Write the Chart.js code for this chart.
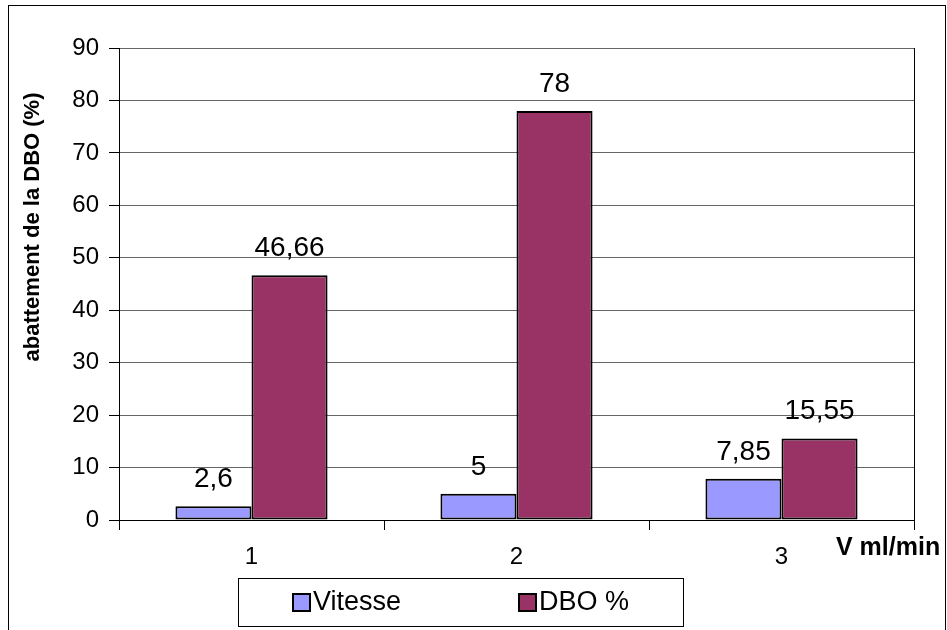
<!DOCTYPE html>
<html>
<head>
<meta charset="utf-8">
<script src="https://cdn.jsdelivr.net/npm/chart.js@4/dist/chart.umd.min.js"></script>
<style>
  html, body { margin: 0; padding: 0; background: #fff; }
  #wrap { width: 947px; height: 630px; position: relative; }
</style>
</head>
<body>
<div id="wrap"><canvas id="chart"></canvas></div>
<script>
// chart data
const categories = ['1', '2', '3'];
const vitesseValues = [2.6, 5, 7.85];
const dboValues = [46.66, 78, 15.55];
const seriesLabels = ['Vitesse', 'DBO %'];
const yMin = 0, yMax = 90, yStep = 10;
const yTitle = 'abattement de la DBO (%)';
const xTitle = 'V ml/min';

const FONT = "Arial, 'Liberation Sans', sans-serif";

// format numbers the french way (comma decimal)
function frNum(v) {
    return String(v).replace('.', ',');
}

// value labels above each bar
const valueLabels = {
    id: 'valueLabels',
    afterDatasetsDraw(chart) {
        const ctx = chart.ctx;
        ctx.save();
        ctx.font = '28px ' + FONT;
        ctx.fillStyle = '#000';
        ctx.textAlign = 'center';
        ctx.textBaseline = 'alphabetic';
        chart.data.datasets.forEach((ds, i) => {
            const meta = chart.getDatasetMeta(i);
            meta.data.forEach((bar, j) => {
                ctx.fillText(frNum(ds.data[j]), bar.x, bar.y - 19);
            });
        });
        ctx.restore();
    }
};

// frame, plot border, axis titles and boxed legend
const decorations = {
    id: 'decorations',
    afterDraw(chart) {
        const ctx = chart.ctx;
        const area = chart.chartArea;
        ctx.save();

        // outer frame
        ctx.strokeStyle = '#000';
        ctx.lineWidth = 1;
        ctx.strokeRect(8.5, 5.5, 937, 700);

        // right edge of plot area
        ctx.beginPath();
        ctx.moveTo(Math.round(area.right) + 0.5, area.top);
        ctx.lineTo(Math.round(area.right) + 0.5, area.bottom);
        ctx.stroke();

        // y axis title
        ctx.save();
        ctx.translate(33, 227);
        ctx.rotate(-Math.PI / 2);
        ctx.font = 'bold 22px ' + FONT;
        ctx.fillStyle = '#000';
        ctx.textAlign = 'center';
        ctx.textBaseline = 'middle';
        ctx.fillText(yTitle, 0, 0);
        ctx.restore();

        // x axis title
        ctx.font = 'bold 25px ' + FONT;
        ctx.fillStyle = '#000';
        ctx.textAlign = 'left';
        ctx.textBaseline = 'middle';
        ctx.fillText(xTitle, 836, 548);

        // legend box
        ctx.strokeRect(238.5, 578.5, 445, 48);
        const itemX = [293, 519];
        ctx.font = '27px ' + FONT;
        chart.data.datasets.forEach((ds, i) => {
            ctx.fillStyle = ds.backgroundColor;
            ctx.fillRect(itemX[i], 594, 17, 17);
            ctx.lineWidth = 2;
            ctx.strokeStyle = '#000';
            ctx.strokeRect(itemX[i], 594, 17, 17);
            ctx.fillStyle = '#000';
            ctx.fillText(ds.label, itemX[i] + 20, 603);
        });

        ctx.restore();
    }
};

const ctx = document.getElementById('chart').getContext('2d');
new Chart(ctx, {
    type: 'bar',
    data: {
        labels: categories,
        datasets: [
            {
                label: seriesLabels[0],
                data: vitesseValues,
                backgroundColor: '#9999FF',
                borderColor: '#000',
                borderWidth: 2,
                borderSkipped: false
            },
            {
                label: seriesLabels[1],
                data: dboValues,
                backgroundColor: '#993366',
                borderColor: '#000',
                borderWidth: 2,
                borderSkipped: false
            }
        ]
    },
    options: {
        responsive: true,
        maintainAspectRatio: false,
        animation: false,
        layout: {
            padding: { left: 10, right: 33, top: 48, bottom: 50 }
        },
        datasets: {
            bar: {
                categoryPercentage: 0.574,
                barPercentage: 1
            }
        },
        plugins: {
            legend: { display: false },
            tooltip: { enabled: false }
        },
        scales: {
            x: {
                offset: true,
                grid: {
                    offset: true,
                    drawOnChartArea: false,
                    tickLength: 10,
                    tickColor: '#000'
                },
                border: { color: '#000', width: 1 },
                ticks: {
                    color: '#000',
                    padding: 13,
                    font: { family: FONT, size: 24 }
                },
                afterFit(scale) {
                    scale.height = 60;
                }
            },
            y: {
                min: yMin,
                max: yMax,
                ticks: {
                    stepSize: yStep,
                    color: '#000',
                    padding: 10,
                    font: { family: FONT, size: 24 }
                },
                grid: {
                    color: '#666',
                    tickColor: '#000',
                    tickLength: 10
                },
                border: { color: '#000', width: 1 },
                afterFit(scale) {
                    scale.width = 109;
                }
            }
        }
    },
    plugins: [valueLabels, decorations]
});
</script>
</body>
</html>
